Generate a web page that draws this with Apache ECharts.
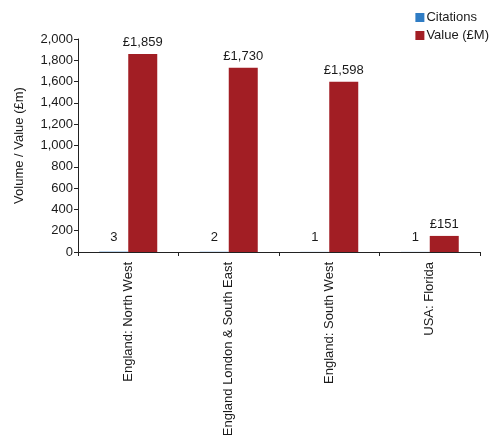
<!DOCTYPE html>
<html>
<head>
<meta charset="utf-8">
<script src="https://cdn.jsdelivr.net/npm/echarts@6/dist/echarts.min.js"></script>
<style>
  html, body { margin: 0; padding: 0; background: #fff; }
  #chart { width: 496px; height: 435px; }
</style>
</head>
<body>
<div id="chart"></div>
<script>
// Regions, number of citations and total value (£m)
var regions = ['England: North West', 'England London & South East', 'England: South West', 'USA: Florida'];
var citations = [3, 2, 1, 1];
var valueGBPm = [1859, 1730, 1598, 151];
var yTicks = { min: 0, max: 2000, interval: 200 };

var FONT = 'Liberation Sans, Arial, Helvetica, sans-serif';
var chart = echarts.init(document.getElementById('chart'), null, { renderer: 'canvas' });

chart.setOption({
  animation: false,
  textStyle: { fontFamily: FONT, fontSize: 13, color: '#1a1a1a' },
  legend: {
    orient: 'vertical',
    right: 2,
    top: 6,
    itemWidth: 9,
    itemHeight: 9,
    itemGap: 5,
    icon: 'rect',
    textStyle: { fontFamily: FONT, fontSize: 13, color: '#1a1a1a', padding: [0, 0, 0, -3] },
    data: ['Citations', 'Value (£M)']
  },
  grid: { left: 78, right: 16, top: 39, bottom: 183, containLabel: false, outerBoundsMode: 'none' },
  xAxis: {
    type: 'category',
    data: regions,
    axisLine: { lineStyle: { color: '#222', width: 1 } },
    axisTick: { show: true, alignWithLabel: false, length: 4, lineStyle: { color: '#222' } },
    axisLabel: { rotate: 90, fontFamily: FONT, fontSize: 13, color: '#1a1a1a', margin: 10, interval: 0 }
  },
  yAxis: {
    type: 'value',
    min: yTicks.min,
    max: yTicks.max,
    interval: yTicks.interval,
    name: 'Volume / Value (£m)',
    nameLocation: 'middle',
    nameGap: 52,
    nameTextStyle: { fontFamily: FONT, fontSize: 13, color: '#1a1a1a' },
    axisLine: { show: true, lineStyle: { color: '#222', width: 1 } },
    axisTick: { show: true, length: 4, lineStyle: { color: '#222' } },
    splitLine: { show: false },
    axisLabel: {
      fontFamily: FONT, fontSize: 13, color: '#1a1a1a', margin: 5,
      formatter: function (v) { return v.toLocaleString('en-US'); }
    }
  },
  series: [
    {
      name: 'Citations',
      type: 'bar',
      data: citations,
      barWidth: 29,
      barGap: '0%',
      itemStyle: { color: '#2f7cc4' },
      label: { show: true, position: 'top', distance: 8, fontFamily: FONT, fontSize: 13, color: '#1a1a1a' }
    },
    {
      name: 'Value (£M)',
      type: 'bar',
      data: valueGBPm,
      barWidth: 29,
      barGap: '0%',
      itemStyle: { color: '#a21e24' },
      label: {
        show: true, position: 'top', distance: 5, fontFamily: FONT, fontSize: 13, color: '#1a1a1a',
        formatter: function (p) { return '£' + p.value.toLocaleString('en-US'); }
      }
    }
  ]
});
</script>
</body>
</html>
